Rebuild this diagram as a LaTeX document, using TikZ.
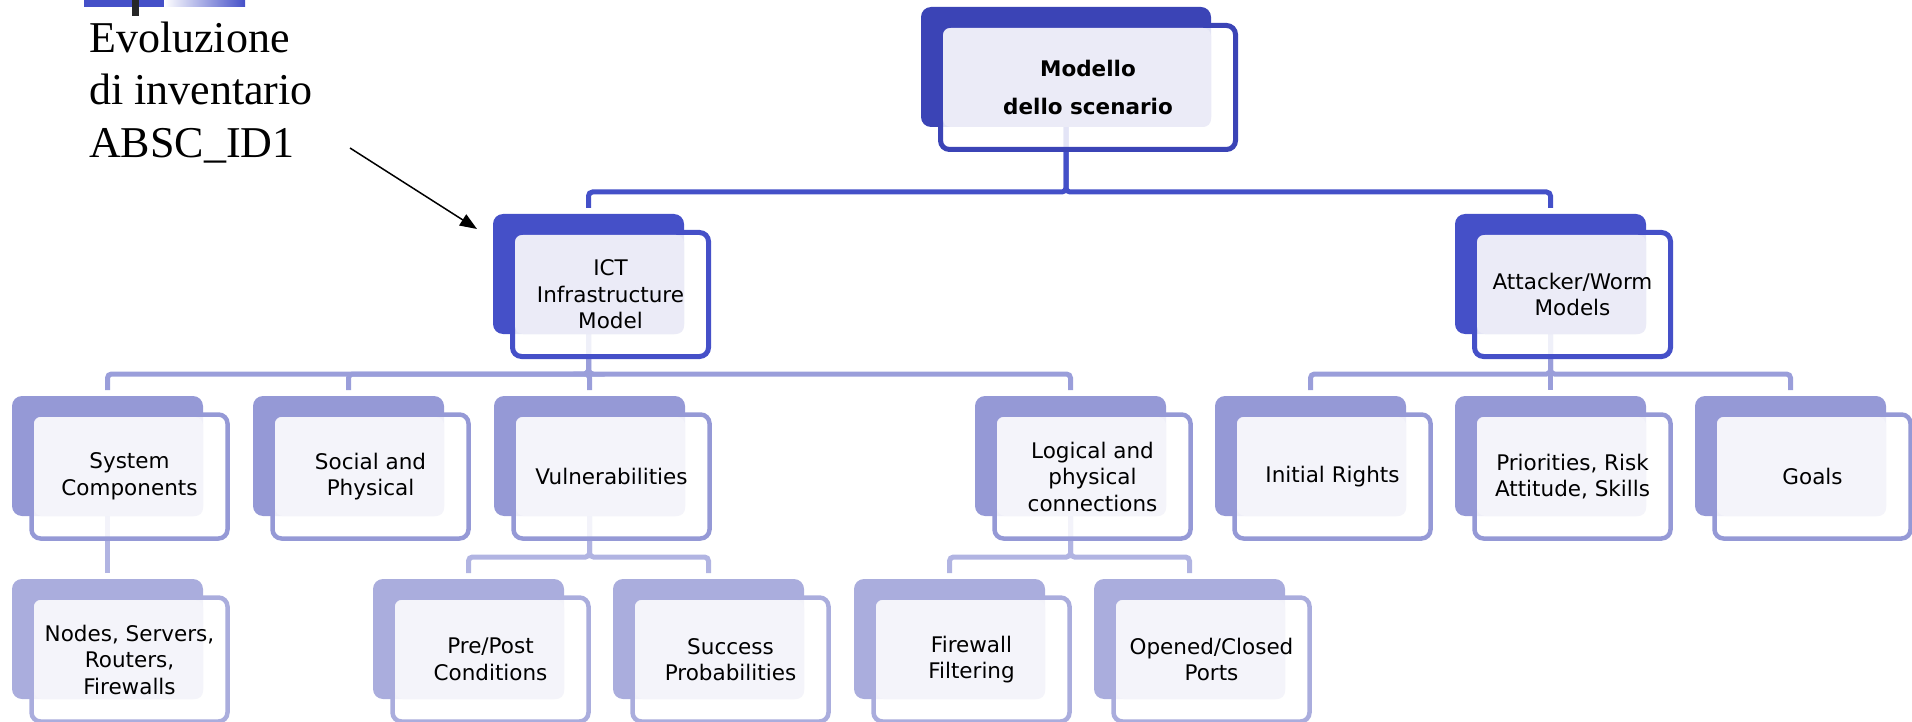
\documentclass[tikz,border=0pt]{standalone}
\usepackage{fontspec}
\setmainfont{DejaVu Sans}
\newfontfamily\serifev{Liberation Serif}
\usetikzlibrary{arrows.meta}
\pgfdeclarelayer{bg}
\pgfsetlayers{bg,main}
\definecolor{c0}{HTML}{3B44B6}
\definecolor{c1}{HTML}{4550C8}
\definecolor{c2}{HTML}{9599D6}
\definecolor{c3}{HTML}{AAADDD}
\definecolor{l0}{HTML}{EBEBF7}
\definecolor{l1}{HTML}{EBEBF7}
\definecolor{l2}{HTML}{F4F4FA}
\definecolor{l3}{HTML}{F4F4FA}
\definecolor{k1}{HTML}{4450C8}
\definecolor{k2}{HTML}{9A9EDA}
\definecolor{k3}{HTML}{B1B4E2}
\tikzset{
  back/.style={fill=#1, rounded corners=10pt, inner sep=0pt, outer sep=0pt, minimum height=120pt},
  front/.style={draw=#1, fill=white, fill opacity=0.85, draw opacity=1, rounded corners=9pt},
  lightbox/.style={fill=#1, rounded corners=8pt},
  txt/.style={align=center, inner sep=0pt, text=black, font=\fontsize{21.5pt}{26.5pt}\selectfont},
  txtb/.style={align=center, inner sep=0pt, text=black, font=\bfseries\fontsize{21.5pt}{38pt}\selectfont},
  conn/.style={draw=#1, line width=5pt, rounded corners=4pt},
  evtext/.style={anchor=base west, inner sep=0pt, font=\serifev\fontsize{44pt}{52.5pt}\selectfont},
}
% name, x, y, width, level, line width, text style, text
\newcommand\tbox[8]{%
  \node[back=c#5, minimum width=#4pt, anchor=north west] (#1) at (#2,#3) {};
  \draw[front=c#5, line width=#6pt] ([shift={(19.5,18.5)}]#1.north west) rectangle ([shift={(24.5,22.5)}]#1.south east);
  \fill[lightbox=l#5] ([shift={(22,21)}]#1.north west) rectangle (#1.south east);
  \node[#7] (#1t) at ([shift={(22,20.5)}]#1.center) {#8};
}
\begin{document}
\begin{tikzpicture}[x=1pt, y=-1pt]
\useasboundingbox (0,0) rectangle (1912,722);
% top-left decoration
\fill[c1] (84,0) rectangle (164,7);
\shade[left color=white, right color=c1] (164,0) rectangle (245,7);
\fill[black!85] (132,0) rectangle (139,16);
% annotation text
\node[evtext] (ev1) at (89,53) {Evoluzione};
\node[evtext] (ev2) at (89,105) {di inventario};
\node[evtext] (ev3) at (89,158) {ABSC\_ID1};
% boxes
\tbox{m}{921}{7}{290}{0}{5}{txtb}{Modello\\dello scenario}
\tbox{ict}{493}{214}{191}{1}{5}{txt}{ICT\\Infrastructure\\Model}
\tbox{att}{1455}{214}{191}{1}{5}{txt}{Attacker/Worm\\Models}
\tbox{sc}{12}{396}{191}{2}{4.5}{txt}{System\\Components}
\tbox{sp}{253}{396}{191}{2}{4.5}{txt}{Social and\\Physical}
\tbox{vu}{494}{396}{191}{2}{4.5}{txt}{Vulnerabilities}
\tbox{lp}{975}{396}{191}{2}{4.5}{txt}{Logical and\\physical\\connections}
\tbox{ir}{1215}{396}{191}{2}{4.5}{txt}{Initial Rights}
\tbox{pr}{1455}{396}{191}{2}{4.5}{txt}{Priorities, Risk\\Attitude, Skills}
\tbox{go}{1695}{396}{191}{2}{4.5}{txt}{Goals}
\tbox{ns}{12}{579}{191}{3}{4.5}{txt}{Nodes, Servers,\\Routers,\\Firewalls}
\tbox{pp}{373}{579}{191}{3}{4.5}{txt}{Pre/Post\\Conditions}
\tbox{su}{613}{579}{191}{3}{4.5}{txt}{Success\\Probabilities}
\tbox{fw}{854}{579}{191}{3}{4.5}{txt}{Firewall\\Filtering}
\tbox{oc}{1094}{579}{191}{3}{4.5}{txt}{Opened/Closed\\Ports}
% connectors
\begin{pgfonlayer}{bg}
\draw[conn=k1] (m.south) -- ++(0,65) -| ([yshift=6pt]ict.north);
\draw[conn=k1] (m.south) -- ++(0,65) -| ([yshift=6pt]att.north);
\foreach \t in {sc,sp,vu,lp}{
  \draw[conn=k2] (ict.south) -- ++(0,40) -| ([yshift=6pt]\t.north);
}
\foreach \t in {ir,pr,go}{
  \draw[conn=k2] (att.south) -- ++(0,40) -| ([yshift=6pt]\t.north);
}
\draw[conn=k3] (sc.south) -- ([yshift=6pt]ns.north);
\foreach \t in {pp,su}{
  \draw[conn=k3] (vu.south) -- ++(0,41) -| ([yshift=6pt]\t.north);
}
\foreach \t in {fw,oc}{
  \draw[conn=k3] (lp.south) -- ++(0,41) -| ([yshift=6pt]\t.north);
}
\end{pgfonlayer}
% annotation arrow
\coordinate (a0) at (350,148);
\coordinate (a1) at (477,229);
\draw[line width=1.5pt, -{Triangle[length=17pt,width=13pt]}] (a0) -- (a1);
\end{tikzpicture}
\end{document}
